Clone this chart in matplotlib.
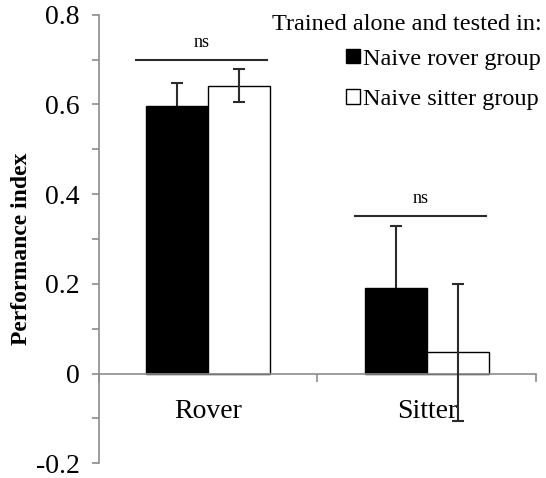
import numpy as np
import matplotlib
matplotlib.use("Agg")
import matplotlib.pyplot as plt
from matplotlib.patches import Patch

plt.rcParams['font.family'] = ['Liberation Serif', 'DejaVu Serif']

# dados
categorias = ['Rover', 'Sitter']
grupos = ['Naive rover group', 'Naive sitter group']
media_rover = [0.596, 0.191]
erro_rover = [0.053, 0.138]
media_sitter = [0.642, 0.047]
erro_sitter = [0.037, 0.153]
ns_altura = [0.70, 0.351]

fig = plt.figure(figsize=(5.46, 4.78), dpi=100)
ax = fig.add_axes([0.181, 0.031, 0.801, 0.938])

x = np.arange(len(categorias))
w = 0.284
cinza = '#8c8c8c'
escuro = '#2b2b2b'

ax.bar(x - w / 2, media_rover, w, color='black', edgecolor='black', linewidth=1, zorder=2, label=grupos[0])
ax.bar(x + w / 2, media_sitter, w, color='white', edgecolor='black', linewidth=1, zorder=2, label=grupos[1])
# barra de erro do preto fica atrás (metade de baixo escondida)
ax.errorbar(x - w / 2, media_rover, yerr=erro_rover, fmt='none', ecolor=escuro, elinewidth=1.5, capsize=4.5, capthick=1.5, zorder=1)
ax.errorbar(x + w / 2, media_sitter, yerr=erro_sitter, fmt='none', ecolor=escuro, elinewidth=1.5, capsize=4.5, capthick=1.5, zorder=3)

# linhas "ns"
for xi, h in zip(x, ns_altura):
    ax.plot([xi - 0.33, xi + 0.27], [h, h], color=escuro, lw=1.5, zorder=3)
    ax.text(xi - 0.03, h + 0.02, 'ns', ha='center', va='bottom', fontsize=13)

ax.set_xlim(-0.5, 1.5)
ax.set_ylim(-0.2, 0.8)

# eixos
for s in ['top', 'right']:
    ax.spines[s].set_visible(False)
ax.spines['left'].set_color(cinza)
ax.spines['bottom'].set_color(cinza)
ax.spines['bottom'].set_position(('data', 0))
ax.spines['left'].set_linewidth(1.2)
ax.spines['bottom'].set_linewidth(1.2)

ax.set_yticks(np.arange(-0.2, 0.81, 0.2))
ax.set_yticklabels(['-0.2', '0', '0.2', '0.4', '0.6', '0.8'])
ax.set_yticks(np.arange(-0.1, 0.8, 0.2), minor=True)
ax.tick_params(axis='y', which='both', direction='out', length=5, width=1.2, color=cinza, labelsize=20, pad=9)

ax.set_xticks([-0.5, 0.5, 1.5])
ax.set_xticklabels([])
ax.set_xticks(x, minor=True)
ax.set_xticklabels(categorias, minor=True)
ax.tick_params(axis='x', which='major', direction='out', length=6, width=1.2, color=cinza)
ax.tick_params(axis='x', which='minor', length=0, labelsize=20, pad=18)

ax.set_ylabel('Performance index', fontsize=17, fontweight='bold')
ax.yaxis.set_label_coords(-0.153, 0.478)

handles = [Patch(facecolor='black', edgecolor='black'), Patch(facecolor='white', edgecolor='black')]
leg = ax.legend(handles, grupos, title='Trained alone and tested in:', loc='upper right',
                bbox_to_anchor=(1.045, 1.035), frameon=False, fontsize=17.5, title_fontsize=17.5,
                handlelength=0.55, handleheight=0.55, handletextpad=0.15, labelspacing=0.8,
                alignment='right', borderpad=0.1)
leg._legend_box.sep = 10

plt.savefig('out.png', dpi=100)
